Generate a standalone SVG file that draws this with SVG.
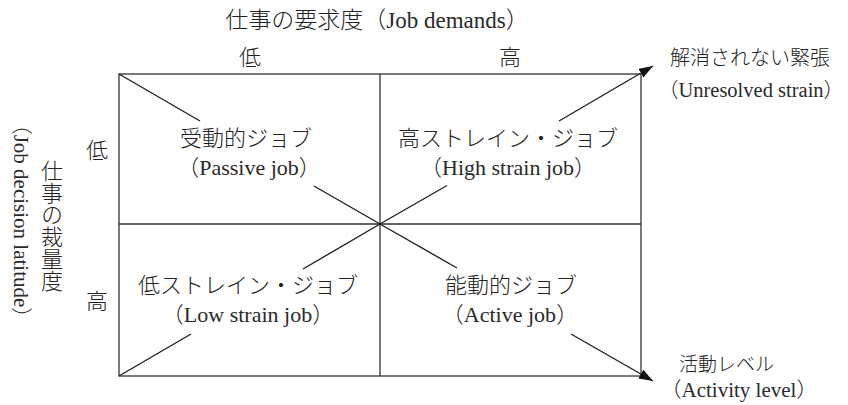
<svg xmlns="http://www.w3.org/2000/svg" width="848" height="405" viewBox="0 0 848 405">
<style>
  .t { font-family: "Liberation Serif", "Noto Sans CJK JP", serif; font-weight: normal; fill: #2a2a2a; }
  .j { font-family: "Noto Sans CJK JP", sans-serif; font-weight: 300; fill: #222; }
  .frame { fill: none; stroke: #333; stroke-width: 1.3; }
  .diag { fill: none; stroke: #222; stroke-width: 1.4; }
</style>
<defs>
  <marker id="arr" markerUnits="userSpaceOnUse" markerWidth="16" markerHeight="12" refX="14" refY="5" orient="auto">
    <path d="M0,0 L14,5 L0,10 Z" fill="#111"/>
  </marker>
</defs>
<rect width="848" height="405" fill="#fff"/>

<g id="frame">
  <rect class="frame" x="119" y="74" width="522" height="302"/>
  <line class="frame" x1="380" y1="74" x2="380" y2="376"/>
  <line class="frame" x1="119" y1="224" x2="641" y2="224"/>
</g>

<g id="connectors">
  <line class="diag" x1="119" y1="74" x2="200" y2="121"/>
  <line class="diag" x1="314" y1="186" x2="380" y2="224"/>
  <line class="diag" x1="380" y1="224" x2="457" y2="268"/>
  <line class="diag" x1="571" y1="334" x2="653" y2="381" marker-end="url(#arr)"/>
  <line class="diag" x1="119" y1="376" x2="191" y2="334"/>
  <line class="diag" x1="303" y1="269" x2="380" y2="224"/>
  <line class="diag" x1="380" y1="224" x2="447" y2="185.5"/>
  <line class="diag" x1="559" y1="121" x2="653" y2="66" marker-end="url(#arr)"/>
</g>

<g id="axis-x">
  <text class="t" x="377" y="28" font-size="23" text-anchor="middle"><tspan class="j">仕事の要求度（</tspan>Job demands<tspan class="j">）</tspan></text>
  <text class="j" x="250" y="65" font-size="22" text-anchor="middle">低</text>
  <text class="j" x="510" y="65" font-size="22" text-anchor="middle">高</text>
</g>

<g id="axis-y">
  <text class="j" x="52" y="226" font-size="22" text-anchor="middle" style="writing-mode: vertical-rl;">仕事の裁量度</text>
  <text class="t" transform="translate(14,221) rotate(90)" x="0" y="0" font-size="21" text-anchor="middle"><tspan class="j">（</tspan>Job decision latitude<tspan class="j">）</tspan></text>
  <text class="j" x="97" y="158" font-size="22" text-anchor="middle">低</text>
  <text class="j" x="97" y="309" font-size="22" text-anchor="middle">高</text>
</g>

<g id="passive">
  <text class="j" x="246" y="146" font-size="22" text-anchor="middle">受動的ジョブ</text>
  <text class="t" x="249" y="175" font-size="22" text-anchor="middle"><tspan class="j">（</tspan>Passive job<tspan class="j">）</tspan></text>
</g>

<g id="high-strain">
  <text class="j" x="508" y="146" font-size="22" text-anchor="middle">高ストレイン・ジョブ</text>
  <text class="t" x="508" y="175" font-size="22" text-anchor="middle"><tspan class="j">（</tspan>High strain job<tspan class="j">）</tspan></text>
</g>

<g id="low-strain">
  <text class="j" x="248" y="293" font-size="22" text-anchor="middle">低ストレイン・ジョブ</text>
  <text class="t" x="248" y="322" font-size="22" text-anchor="middle"><tspan class="j">（</tspan>Low strain job<tspan class="j">）</tspan></text>
</g>

<g id="active">
  <text class="j" x="511" y="293" font-size="22" text-anchor="middle">能動的ジョブ</text>
  <text class="t" x="510" y="322" font-size="22" text-anchor="middle"><tspan class="j">（</tspan>Active job<tspan class="j">）</tspan></text>
</g>

<g id="unresolved-strain">
  <text class="j" x="670" y="65" font-size="20">解消されない緊張</text>
  <text class="t" x="751" y="97" font-size="20.5" text-anchor="middle"><tspan class="j">（</tspan>Unresolved strain<tspan class="j">）</tspan></text>
</g>

<g id="activity-level">
  <text class="j" x="679" y="371" font-size="19">活動レベル</text>
  <text class="t" x="739" y="397" font-size="21" text-anchor="middle"><tspan class="j">（</tspan>Activity level<tspan class="j">）</tspan></text>
</g>
</svg>
